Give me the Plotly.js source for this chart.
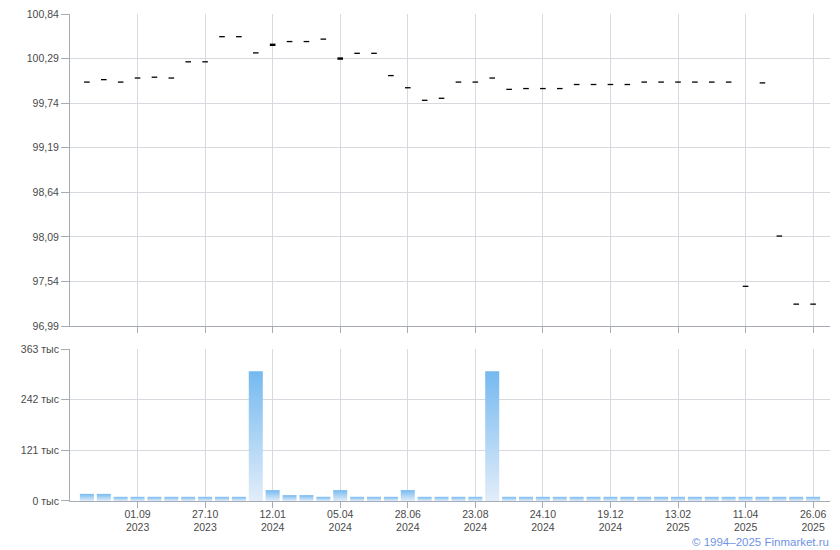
<!DOCTYPE html>
<html><head><meta charset="utf-8">
<script src="https://cdn.plot.ly/plotly-3.0.1.min.js"></script>
<style>html,body{margin:0;padding:0;background:#fff}#chart{width:840px;height:550px}</style>
</head><body><div id="chart"></div>
<script>
// Price (close) per period
const price = [100.00, 100.03, 100.00, 100.05, 100.06, 100.05, 100.25, 100.25, 100.56, 100.56,
  100.36, 100.46, 100.50, 100.50, 100.53, 100.29, 100.355, 100.355, 100.08, 99.93,
  99.775, 99.80, 100.00, 100.00, 100.05, 99.91, 99.92, 99.92, 99.92, 99.97,
  99.97, 99.97, 99.97, 100.00, 100.00, 100.00, 100.00, 100.00, 100.00, 97.48,
  99.99, 98.10, 97.26, 97.26];
// Volume per period
const volume = [17000, 17000, 10000, 10000, 10000, 10000, 10000, 10000, 10000, 10000,
  310000, 26000, 14000, 14000, 10000, 26000, 10000, 10000, 10000, 26000,
  10000, 10000, 10000, 10000, 310000, 10000, 10000, 10000, 10000, 10000,
  10000, 10000, 10000, 10000, 10000, 10000, 10000, 10000, 10000, 10000,
  10000, 10000, 10000, 10000];
// x-axis tick labels (category index -> date)
const tickIdx = [3, 7, 11, 15, 19, 23, 27, 31, 35, 39, 43];
const tickDates = ['01.09', '27.10', '12.01', '05.04', '28.06', '23.08', '24.10', '19.12', '13.02', '11.04', '26.06'];
const tickYears = ['2023', '2023', '2024', '2024', '2024', '2024', '2024', '2024', '2025', '2025', '2025'];
// y-axis ticks
const priceTicks = [96.99, 97.54, 98.09, 98.64, 99.19, 99.74, 100.29, 100.84];
const volTicks = [0, 121000, 242000, 363000];
const volTickText = ['0 тыс', '121 тыс', '242 тыс', '363 тыс'];

const thickIdx = [11, 15];

const xs = price.map((_, i) => i);
const priceTickText = priceTicks.map(v => v.toFixed(2).replace('.', ','));
const xTickText = tickDates.map((d, i) => d + '<br>' + tickYears[i]);

const FONT = 'Tahoma, "Liberation Sans", Arial, sans-serif';
const GRID = '#d6dade';
const LINE = '#a7acb4';

const traces = [
  {
    type: 'scatter', mode: 'markers', x: xs, y: price, xaxis: 'x', yaxis: 'y',
    marker: {symbol: 'line-ew', size: 4, color: '#000',
      line: {color: '#000', width: xs.map(i => thickIdx.includes(i) ? 2.4 : 1.3)}},
    hoverinfo: 'y'
  },
  {
    type: 'bar', x: xs, y: volume, xaxis: 'x2', yaxis: 'y2',
    marker: {color: '#9fcdf3', line: {width: 0}},
    hoverinfo: 'y'
  }
];

const axisCommon = {
  showgrid: true, gridcolor: GRID, gridwidth: 1,
  showline: true, linecolor: LINE, linewidth: 1,
  ticks: 'outside', tickcolor: LINE, ticklen: 6, tickwidth: 1,
  zeroline: false,
  tickfont: {family: FONT, size: 10.5, color: '#4a4a4a'}
};

const layout = {
  width: 840, height: 550,
  margin: {l: 70, r: 10, t: 14, b: 49},
  paper_bgcolor: '#fff', plot_bgcolor: '#fff',
  showlegend: false,
  bargap: 0.17,
  xaxis: Object.assign({}, axisCommon, {
    domain: [0, 1], anchor: 'y', range: [-1, 44],
    tickmode: 'array', tickvals: tickIdx, ticktext: xTickText, showticklabels: false
  }),
  xaxis2: Object.assign({}, axisCommon, {
    domain: [0, 1], anchor: 'y2', range: [-1, 44],
    tickmode: 'array', tickvals: tickIdx, ticktext: xTickText, showticklabels: true,
    ticklabelstandoff: -3
  }),
  yaxis: Object.assign({}, axisCommon, {
    domain: [0.3593, 1], anchor: 'x', range: [96.99, 100.84],
    tickmode: 'array', tickvals: priceTicks, ticktext: priceTickText, ticklen: 8
  }),
  yaxis2: Object.assign({}, axisCommon, {
    domain: [0, 0.3121], anchor: 'x2', range: [0, 363000],
    tickmode: 'array', tickvals: volTicks, ticktext: volTickText, ticklen: 8
  }),
  annotations: [{
    text: '© 1994–2025 Finmarket.ru', xref: 'paper', yref: 'paper',
    x: 1, y: -0.0842, xanchor: 'right', yanchor: 'middle', xshift: 1, showarrow: false,
    font: {family: FONT, size: 11.5, color: '#6f93e3'}
  }]
};

Plotly.newPlot('chart', traces, layout, {displayModeBar: false, staticPlot: true}).then(gd => {
  const svg = gd.querySelector('.main-svg');
  let defs = svg.querySelector('defs');
  const NS = 'http://www.w3.org/2000/svg';
  if (!defs) { defs = document.createElementNS(NS, 'defs'); svg.insertBefore(defs, svg.firstChild); }
  const g = document.createElementNS(NS, 'linearGradient');
  g.setAttribute('id', 'volGrad');
  g.setAttribute('x1', '0'); g.setAttribute('y1', '0');
  g.setAttribute('x2', '0'); g.setAttribute('y2', '1');
  [['0', '#75b9f0'], ['1', '#e2edf9']].forEach(([o, c]) => {
    const s = document.createElementNS(NS, 'stop');
    s.setAttribute('offset', o); s.setAttribute('stop-color', c);
    g.appendChild(s);
  });
  defs.appendChild(g);
  gd.querySelectorAll('.barlayer .point path').forEach(p => { p.style.fill = 'url(#volGrad)'; });
});
</script>
</body></html>
